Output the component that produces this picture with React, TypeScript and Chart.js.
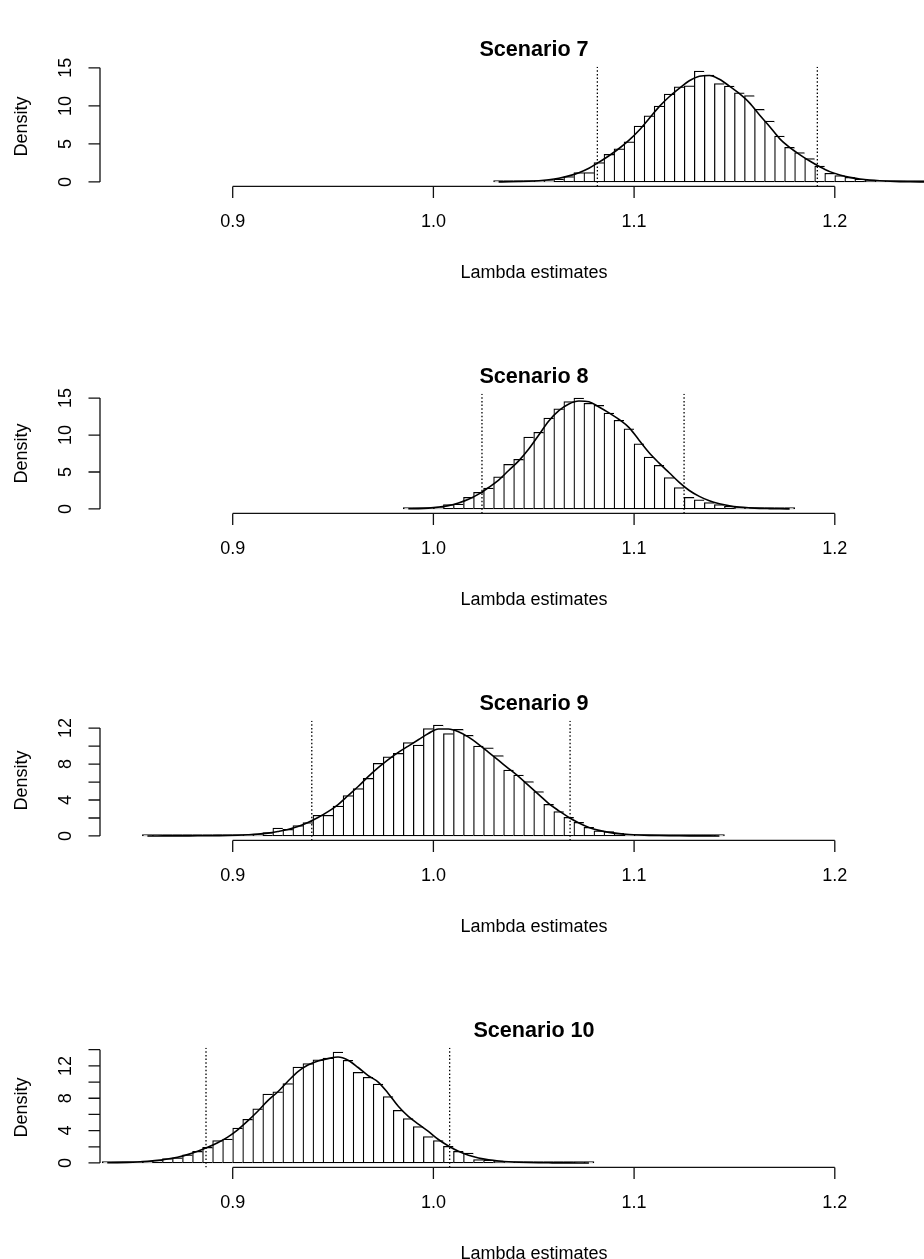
import React, { useEffect, useRef } from "react";
import { Chart, registerables } from "chart.js";

Chart.register(...registerables);

// ---------- shared axis data ----------
const xTicks = [0.9, 1.0, 1.1, 1.2];
const xTickLabels = ["0.9", "1.0", "1.1", "1.2"];
const xMin = 0.83388;
const xMax = 1.26637;

// ---------- Scenario 7 ----------
const s7Bins = [1.0325, 1.0375, 1.0425, 1.0475, 1.0525, 1.0575, 1.0625, 1.0675, 1.0725, 1.0775, 1.0825, 1.0875, 1.0925, 1.0975, 1.1025, 1.1075, 1.1125, 1.1175, 1.1225, 1.1275, 1.1325, 1.1375, 1.1425, 1.1475, 1.1525, 1.1575, 1.1625, 1.1675, 1.1725, 1.1775, 1.1825, 1.1875, 1.1925, 1.1975, 1.2025, 1.2075, 1.2125, 1.2175, 1.2225, 1.2275, 1.2325, 1.2375, 1.2425, 1.2475];
const s7Hist = [0.015, 0.03, 0.05, 0.09, 0.14, 0.22, 0.39, 0.7, 1.22, 1.22, 2.54, 3.63, 4.37, 5.29, 7.35, 8.7, 9.97, 11.55, 12.5, 12.64, 14.57, 14.04, 12.95, 12.6, 11.72, 11.37, 9.54, 8.0, 6.04, 4.55, 3.85, 3.06, 2.1, 1.14, 0.83, 0.61, 0.39, 0.25, 0.16, 0.1, 0.06, 0.04, 0.02, 0.01];
const s7Dens = [0.01, 0.03, 0.06, 0.1, 0.17, 0.3, 0.5, 0.8, 1.22, 1.8, 2.6, 3.45, 4.4, 5.5, 6.8, 8.35, 9.9, 11.2, 12.3, 13.3, 13.9, 14.0, 13.5, 12.6, 11.6, 10.4, 8.8, 7.3, 5.7, 4.55, 3.6, 2.75, 2.0, 1.36, 0.92, 0.6, 0.38, 0.24, 0.15, 0.09, 0.05, 0.03, 0.015, 0.01];
const s7Lines = [1.0817, 1.1913];
const s7YTicks = [0, 5, 10, 15];
const s7YLabels = ["0", "5", "10", "15"];

// ---------- Scenario 8 ----------
const s8Bins = [0.9875, 0.9925, 0.9975, 1.0025, 1.0075, 1.0125, 1.0175, 1.0225, 1.0275, 1.0325, 1.0375, 1.0425, 1.0475, 1.0525, 1.0575, 1.0625, 1.0675, 1.0725, 1.0775, 1.0825, 1.0875, 1.0925, 1.0975, 1.1025, 1.1075, 1.1125, 1.1175, 1.1225, 1.1275, 1.1325, 1.1375, 1.1425, 1.1475, 1.1525, 1.1575, 1.1625, 1.1675, 1.1725, 1.1775];
const s8Hist = [0.02, 0.06, 0.12, 0.22, 0.58, 0.67, 1.57, 2.24, 2.82, 4.34, 6.04, 6.71, 9.71, 10.38, 12.3, 13.56, 14.54, 14.99, 14.3, 14.0, 12.98, 12.0, 10.83, 8.81, 7.02, 5.9, 4.25, 2.9, 1.57, 1.25, 0.85, 0.58, 0.35, 0.22, 0.13, 0.08, 0.05, 0.03, 0.015];
const s8Dens = [0.02, 0.05, 0.12, 0.25, 0.45, 0.8, 1.3, 2.0, 2.9, 3.9, 5.2, 6.5, 8.1, 10.0, 11.9, 13.3, 14.2, 14.6, 14.5, 13.8, 13.0, 12.1, 11.0, 9.3, 7.6, 6.2, 4.9, 3.6, 2.5, 1.7, 1.1, 0.7, 0.42, 0.25, 0.15, 0.08, 0.05, 0.03, 0.015];
const s8Lines = [1.0242, 1.1249];
const s8YTicks = [0, 5, 10, 15];
const s8YLabels = ["0", "5", "10", "15"];

// ---------- Scenario 9 ----------
const s9Bins = [0.8575, 0.8625, 0.8675, 0.8725, 0.8775, 0.8825, 0.8875, 0.8925, 0.8975, 0.9025, 0.9075, 0.9125, 0.9175, 0.9225, 0.9275, 0.9325, 0.9375, 0.9425, 0.9475, 0.9525, 0.9575, 0.9625, 0.9675, 0.9725, 0.9775, 0.9825, 0.9875, 0.9925, 0.9975, 1.0025, 1.0075, 1.0125, 1.0175, 1.0225, 1.0275, 1.0325, 1.0375, 1.0425, 1.0475, 1.0525, 1.0575, 1.0625, 1.0675, 1.0725, 1.0775, 1.0825, 1.0875, 1.0925, 1.0975, 1.1025, 1.1075, 1.1125, 1.1175, 1.1225, 1.1275, 1.1325, 1.1375, 1.1425];
const s9Hist = [0.005, 0.005, 0.01, 0.01, 0.015, 0.02, 0.03, 0.05, 0.07, 0.1, 0.13, 0.2, 0.37, 0.89, 0.74, 1.15, 1.48, 2.3, 2.3, 3.33, 4.48, 5.26, 6.4, 8.07, 8.81, 9.19, 10.4, 10.1, 11.96, 12.33, 11.4, 11.85, 11.2, 10.0, 9.81, 8.93, 7.33, 6.78, 6.04, 4.93, 3.52, 2.7, 2.07, 1.52, 0.96, 0.56, 0.48, 0.3, 0.19, 0.12, 0.07, 0.05, 0.03, 0.02, 0.015, 0.01, 0.005, 0.005];
const s9Dens = [0.003, 0.004, 0.006, 0.008, 0.012, 0.017, 0.025, 0.035, 0.05, 0.08, 0.13, 0.2, 0.32, 0.5, 0.72, 1.05, 1.5, 2.05, 2.7, 3.5, 4.5, 5.5, 6.6, 7.6, 8.5, 9.3, 10.0, 10.7, 11.4, 11.9, 11.9, 11.6, 11.0, 10.2, 9.3, 8.4, 7.5, 6.6, 5.6, 4.6, 3.6, 2.8, 2.05, 1.45, 0.95, 0.62, 0.4, 0.26, 0.17, 0.11, 0.07, 0.045, 0.03, 0.02, 0.012, 0.008, 0.005, 0.003];
const s9Lines = [0.9394, 1.0681];
const s9YTicks = [0, 2, 4, 6, 8, 10, 12];
const s9YLabels = ["0", "", "4", "", "8", "", "12"];

// ---------- Scenario 10 ----------
const s10Bins = [0.8375, 0.8425, 0.8475, 0.8525, 0.8575, 0.8625, 0.8675, 0.8725, 0.8775, 0.8825, 0.8875, 0.8925, 0.8975, 0.9025, 0.9075, 0.9125, 0.9175, 0.9225, 0.9275, 0.9325, 0.9375, 0.9425, 0.9475, 0.9525, 0.9575, 0.9625, 0.9675, 0.9725, 0.9775, 0.9825, 0.9875, 0.9925, 0.9975, 1.0025, 1.0075, 1.0125, 1.0175, 1.0225, 1.0275, 1.0325, 1.0375, 1.0425, 1.0475, 1.0525, 1.0575, 1.0625, 1.0675, 1.0725, 1.0775];
const s10Hist = [0.02, 0.04, 0.08, 0.12, 0.2, 0.33, 0.53, 0.62, 1.0, 1.44, 1.93, 2.76, 2.96, 4.3, 5.4, 6.7, 8.5, 8.8, 9.8, 11.85, 12.3, 12.75, 12.96, 13.7, 12.7, 11.2, 10.6, 9.75, 8.2, 6.5, 5.5, 4.5, 3.25, 2.76, 2.06, 1.44, 1.23, 0.41, 0.37, 0.25, 0.15, 0.08, 0.05, 0.03, 0.02, 0.01, 0.01, 0.005, 0.005];
const s10Dens = [0.02, 0.04, 0.07, 0.12, 0.2, 0.32, 0.48, 0.7, 1.03, 1.44, 1.93, 2.5, 3.2, 4.1, 5.2, 6.4, 7.7, 8.8, 10.1, 11.3, 12.1, 12.6, 12.9, 13.1, 12.7, 11.8, 10.8, 10.0, 8.6, 7.0, 5.75, 4.8, 3.9, 2.9, 2.1, 1.44, 0.95, 0.62, 0.4, 0.25, 0.15, 0.09, 0.05, 0.03, 0.02, 0.01, 0.007, 0.005, 0.003];
const s10Lines = [0.8867, 1.0081];
const s10YTicks = [0, 2, 4, 6, 8, 10, 12, 14];
const s10YLabels = ["0", "", "4", "", "8", "", "12", ""];

const titles = ["Scenario 7", "Scenario 8", "Scenario 9", "Scenario 10"];
const xTitle = "Lambda estimates";
const yTitle = "Density";

const FONT = '"Liberation Sans", Arial, Helvetica, sans-serif';
const PANEL_H = 327;
const CANVAS_W = 968;

type PanelProps = {
  title: string;
  bins: number[];
  hist: number[];
  dens: number[];
  lines: number[];
  yTicks: number[];
  yLabels: string[];
  top: number;
};

function makeAxesPlugin(title: string, yTicks: number[], yLabels: string[]) {
  return {
    id: "rAxes",
    afterDraw(chart: any) {
      const { ctx, chartArea, scales } = chart;
      const xs = scales.x;
      const ys = scales.y;
      ctx.save();
      ctx.strokeStyle = "#111";
      ctx.fillStyle = "#000";
      ctx.lineWidth = 1.3;
      const yb = chartArea.bottom;
      const xl = chartArea.left;
      // x axis
      ctx.beginPath();
      ctx.moveTo(xs.getPixelForValue(xTicks[0]), yb);
      ctx.lineTo(xs.getPixelForValue(xTicks[xTicks.length - 1]), yb);
      xTicks.forEach((t) => {
        const px = xs.getPixelForValue(t);
        ctx.moveTo(px, yb);
        ctx.lineTo(px, yb + 11.7);
      });
      // y axis
      ctx.moveTo(xl, ys.getPixelForValue(yTicks[0]));
      ctx.lineTo(xl, ys.getPixelForValue(yTicks[yTicks.length - 1]));
      yTicks.forEach((t) => {
        const py = ys.getPixelForValue(t);
        ctx.moveTo(xl, py);
        ctx.lineTo(xl - 11.5, py);
      });
      ctx.stroke();

      ctx.font = `18px ${FONT}`;
      ctx.textAlign = "center";
      ctx.textBaseline = "middle";
      xTicks.forEach((t, i) => {
        ctx.fillText(xTickLabels[i], xs.getPixelForValue(t), yb + 35.5);
      });
      yTicks.forEach((t, i) => {
        if (!yLabels[i]) return;
        ctx.save();
        ctx.translate(66.5, ys.getPixelForValue(t));
        ctx.rotate(-Math.PI / 2);
        ctx.fillText(yLabels[i], 0, 0);
        ctx.restore();
      });
      const cx = (chartArea.left + chartArea.right) / 2;
      ctx.fillText(xTitle, cx, yb + 86.6);
      ctx.save();
      ctx.translate(22.5, (chartArea.top + chartArea.bottom) / 2);
      ctx.rotate(-Math.PI / 2);
      ctx.fillText(yTitle, 0, 0);
      ctx.restore();
      ctx.font = `bold 21.6px ${FONT}`;
      ctx.fillText(title, cx, chartArea.top - 16.8);
      ctx.restore();
    },
  };
}

function Panel(props: PanelProps) {
  const ref = useRef<HTMLCanvasElement | null>(null);
  useEffect(() => {
    if (!ref.current) return;
    const { title, bins, hist, dens, lines, yTicks, yLabels } = props;
    const yTop = Math.max(...hist);
    const yMin = -0.04 * yTop;
    const yMax = 1.04 * yTop;
    const last = bins.length - 1;
    const datasets: any[] = [
      ...lines.map((v) => ({
        type: "line",
        data: [
          { x: v, y: yMin },
          { x: v, y: yMax },
        ],
        borderColor: "#000",
        borderWidth: 1.3,
        borderDash: [1.5, 2.2],
        pointRadius: 0,
        fill: false,
        order: 1,
      })),
      {
        type: "line",
        data: bins.map((b, i) => ({ x: b, y: dens[i] })),
        borderColor: "#000",
        borderWidth: 1.6,
        pointRadius: 0,
        fill: false,
        cubicInterpolationMode: "monotone",
        order: 2,
      },
      {
        type: "bar",
        data: bins.map((b, i) => ({ x: b, y: hist[i] })),
        backgroundColor: "#fff",
        borderColor: "#000",
        borderSkipped: false,
        borderWidth: (c: any) => ({
          top: 1.25,
          left: 1.25,
          bottom: 1.25,
          right: c.dataIndex === last ? 1.25 : 0,
        }),
        minBarLength: 1.4,
        barPercentage: 1,
        categoryPercentage: 1,
        grouped: false,
        order: 3,
      },
    ];
    const chart = new Chart(ref.current, {
      type: "bar",
      data: { datasets },
      options: {
        responsive: false,
        devicePixelRatio: 1,
        animation: false,
        events: [],
        layout: { padding: { left: 100, right: 0, top: 66.7, bottom: PANEL_H - 186.4 } },
        scales: {
          x: { type: "linear", min: xMin, max: xMax, display: false, offset: false },
          y: { type: "linear", min: yMin, max: yMax, display: false },
        },
        plugins: { legend: { display: false }, tooltip: { enabled: false }, title: { display: false } },
      },
      plugins: [makeAxesPlugin(title, yTicks, yLabels)],
    } as any);
    return () => chart.destroy();
  }, []);
  return (
    <div style={{ position: "absolute", left: 0, top: props.top, width: CANVAS_W, height: PANEL_H }}>
      <canvas ref={ref} width={CANVAS_W} height={PANEL_H} style={{ display: "block" }} />
    </div>
  );
}

const panels = [
  { title: titles[0], bins: s7Bins, hist: s7Hist, dens: s7Dens, lines: s7Lines, yTicks: s7YTicks, yLabels: s7YLabels },
  { title: titles[1], bins: s8Bins, hist: s8Hist, dens: s8Dens, lines: s8Lines, yTicks: s8YTicks, yLabels: s8YLabels },
  { title: titles[2], bins: s9Bins, hist: s9Hist, dens: s9Dens, lines: s9Lines, yTicks: s9YTicks, yLabels: s9YLabels },
  { title: titles[3], bins: s10Bins, hist: s10Hist, dens: s10Dens, lines: s10Lines, yTicks: s10YTicks, yLabels: s10YLabels },
];

export default function App() {
  return (
    <div
      style={{
        position: "absolute",
        left: 0,
        top: 0,
        width: 924,
        height: 1259,
        overflow: "hidden",
        background: "#fff",
      }}
    >
      {panels.map((p, i) => (
        <Panel key={i} {...p} top={i * PANEL_H} />
      ))}
    </div>
  );
}
